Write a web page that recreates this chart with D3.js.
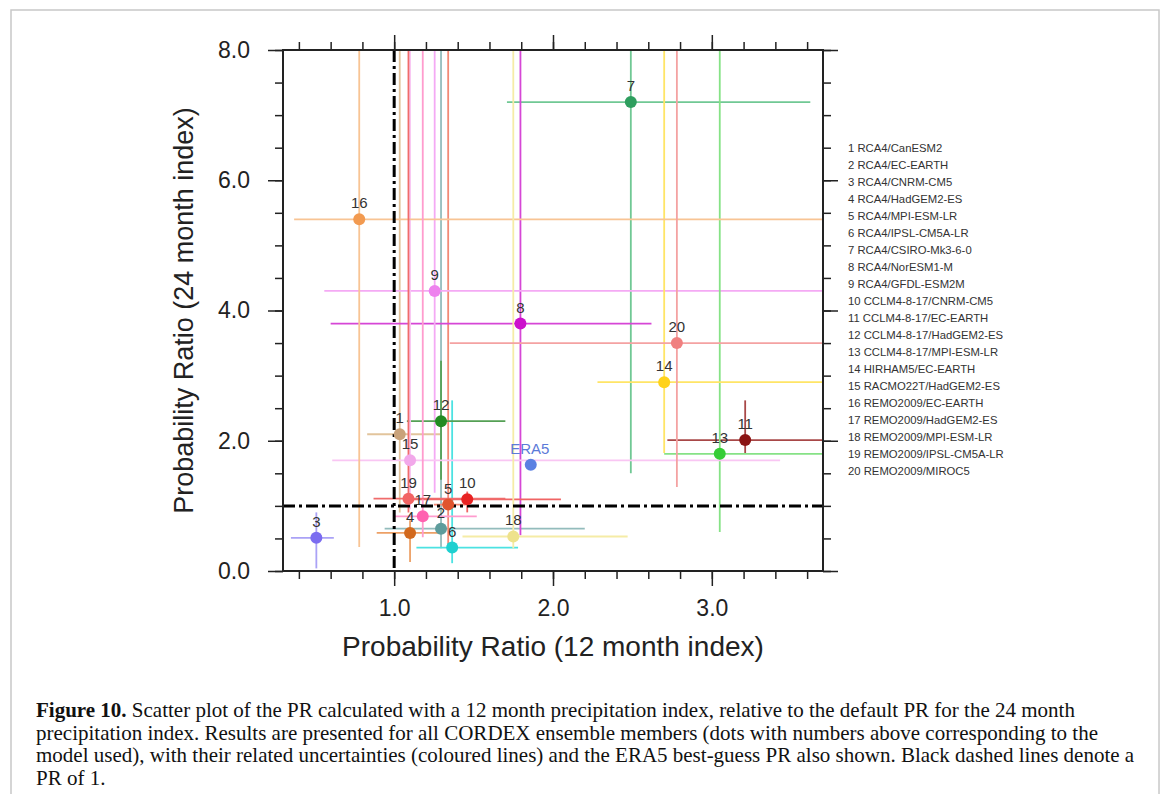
<!DOCTYPE html>
<html><head><meta charset="utf-8">
<script src="https://cdn.jsdelivr.net/npm/d3@7"></script>
<style>body{margin:0;background:#fff}svg{display:block}</style>
</head><body>
<svg id="chart" width="1170" height="794"></svg>
<script>
const ids      = ["1","2","3","4","5","6","7","8","9","10","11","12","13","14","15","16","17","18","19","20"];
const models   = ["RCA4/CanESM2","RCA4/EC-EARTH","RCA4/CNRM-CM5","RCA4/HadGEM2-ES","RCA4/MPI-ESM-LR","RCA4/IPSL-CM5A-LR","RCA4/CSIRO-Mk3-6-0","RCA4/NorESM1-M","RCA4/GFDL-ESM2M","CCLM4-8-17/CNRM-CM5","CCLM4-8-17/EC-EARTH","CCLM4-8-17/HadGEM2-ES","CCLM4-8-17/MPI-ESM-LR","HIRHAM5/EC-EARTH","RACMO22T/HadGEM2-ES","REMO2009/EC-EARTH","REMO2009/HadGEM2-ES","REMO2009/MPI-ESM-LR","REMO2009/IPSL-CM5A-LR","REMO2009/MIROC5"];
const pr12     = [1.035,1.295,0.51,1.10,1.34,1.365,2.49,1.795,1.255,1.46,3.21,1.295,3.05,2.70,1.10,0.78,1.18,1.75,1.09,2.78];
const pr24     = [2.10,0.65,0.51,0.585,1.02,0.36,7.20,3.80,4.30,1.10,2.01,2.30,1.80,2.90,1.70,5.40,0.84,0.53,1.11,3.50];
const pr12Low  = [0.83,0.94,0.35,0.89,1.25,1.14,1.71,0.60,0.56,1.10,2.72,1.08,2.70,2.28,0.61,0.37,1.00,1.43,0.87,1.35];
const pr12High = [1.29,2.20,0.62,1.30,1.45,1.78,3.62,2.62,4.00,2.05,4.00,1.70,4.00,4.00,3.43,4.00,1.52,2.47,1.70,4.00];
const pr24Low  = [0.90,0.35,0.04,0.14,0.37,0.12,1.50,0.55,1.20,0.90,1.81,1.40,0.60,1.81,0.95,0.37,0.52,0.35,0.90,1.29];
const pr24High = [9,9,0.90,0.78,9,2.62,9,9,9,1.22,2.62,3.23,9,9,9,9,9,9,9,9];
const dotColors  = ["#c9a27a","#5e9c9c","#7b6cf0","#d2691e","#e0552e","#1fd0d0","#2e9e5e","#cc10cc","#ee82ee","#e82222","#8b1414","#228b22","#36cd36","#ffd21a","#f2a8ea","#f29a50","#ff62b0","#eee28c","#f26464","#f08080"];
const lineColors = ["#e2c49c","#93bcbc","#aaa2f6","#eda066","#f28a76","#4ce2e2","#70c894","#d646d6","#f4aaf4","#f06464","#a84848","#55a055","#86e286","#ffe566","#f9c6f3","#f8c494","#ff9cce","#f5eca6","#f06c6c","#f4a2a2"];
const era5 = {x: 1.86, y: 1.63, label: "ERA5"};
const xTicks = [1.0, 2.0, 3.0];
const yTicks = [0.0, 2.0, 4.0, 6.0, 8.0];
const xTitle = "Probability Ratio (12 month index)";
const yTitle = "Probability Ratio (24 month index)";
const captionBold = "Figure 10.";
const captionLines = [
  " Scatter plot of the PR calculated with a 12 month precipitation index, relative to the default PR for the 24 month",
  "precipitation index. Results are presented for all CORDEX ensemble members (dots with numbers above corresponding to the",
  "model used), with their related uncertainties (coloured lines) and the ERA5 best-guess PR also shown. Black dashed lines denote a",
  "PR of 1."
];

const svg = d3.select("#chart");
const L = 283, R = 823, T = 50, B = 571;
const x = d3.scaleLinear().domain([0.3, 3.7]).range([L, R]);
const y = d3.scaleLinear().domain([0, 8]).range([B, T]);
const font = "'Liberation Sans', Arial, Helvetica, sans-serif";

// outer border
svg.append("rect").attr("x", 11).attr("y", 10).attr("width", 1148).attr("height", 800)
  .attr("fill", "none").attr("stroke", "#c8c8c8").attr("stroke-width", 1.5);

svg.append("defs").append("clipPath").attr("id", "clip")
  .append("rect").attr("x", L).attr("y", T).attr("width", R - L).attr("height", B - T);

const data = ids.map((id, i) => ({id, i, x: pr12[i], y: pr24[i], xl: pr12Low[i], xh: pr12High[i], yl: pr24Low[i], yh: pr24High[i]}));

const g = svg.append("g").attr("clip-path", "url(#clip)");
// error bars
data.forEach(d => {
  g.append("line").attr("x1", x(d.xl)).attr("x2", x(d.xh)).attr("y1", y(d.y)).attr("y2", y(d.y))
    .attr("stroke", lineColors[d.i]).attr("stroke-width", 1.8);
  g.append("line").attr("x1", x(d.x)).attr("x2", x(d.x)).attr("y1", y(d.yl)).attr("y2", y(d.yh))
    .attr("stroke", lineColors[d.i]).attr("stroke-width", 1.8);
});
// reference PR=1 lines
g.append("line").attr("x1", x(1)).attr("x2", x(1)).attr("y1", T).attr("y2", B)
  .attr("stroke", "#000").attr("stroke-width", 3).attr("stroke-dasharray", "12,4,3,4");
g.append("line").attr("x1", L).attr("x2", R).attr("y1", y(1)).attr("y2", y(1))
  .attr("stroke", "#000").attr("stroke-width", 3).attr("stroke-dasharray", "12,4,3,4");
// points
g.selectAll("circle.pt").data(data).join("circle").attr("class", "pt")
  .attr("cx", d => x(d.x)).attr("cy", d => y(d.y)).attr("r", 6).attr("fill", d => dotColors[d.i]);
g.append("circle").attr("cx", x(era5.x)).attr("cy", y(era5.y)).attr("r", 6).attr("fill", "#5b80e2");
// labels
svg.selectAll("text.lab").data(data).join("text").attr("class", "lab")
  .attr("x", d => x(d.x)).attr("y", d => y(d.y) - 11).attr("text-anchor", "middle")
  .attr("font-family", font).attr("font-size", 15).attr("fill", "#333").text(d => d.id);
svg.append("text").attr("x", x(era5.x) - 1).attr("y", y(era5.y) - 11).attr("text-anchor", "middle")
  .attr("font-family", font).attr("font-size", 15).attr("fill", "#5b7ad8").text(era5.label);

// axes
function styleAxis(sel) {
  sel.select(".domain").remove();
  sel.selectAll(".tick line").attr("stroke", "#222").attr("stroke-width", 1.5);
  sel.selectAll("text").attr("font-family", font).attr("font-size", 23).attr("fill", "#222");
}
const xMinor = d3.range(0.4, 3.7, 0.2).map(v => +v.toFixed(1));
const yMinor = d3.range(0, 8.01, 0.5);
const fmt = d3.format(".1f");
// bottom
svg.append("g").attr("transform", `translate(0,${B})`)
  .call(d3.axisBottom(x).tickValues(xMinor).tickSize(8).tickFormat("")).call(styleAxis);
svg.append("g").attr("transform", `translate(0,${B})`)
  .call(d3.axisBottom(x).tickValues(xTicks).tickSize(15).tickPadding(14).tickFormat(fmt)).call(styleAxis);
// top
svg.append("g").attr("transform", `translate(0,${T})`)
  .call(d3.axisTop(x).tickValues(xMinor).tickSize(8).tickFormat("")).call(styleAxis);
svg.append("g").attr("transform", `translate(0,${T})`)
  .call(d3.axisTop(x).tickValues(xTicks).tickSize(15).tickFormat("")).call(styleAxis);
// left
svg.append("g").attr("transform", `translate(${L},0)`)
  .call(d3.axisLeft(y).tickValues(yMinor).tickSize(8).tickFormat("")).call(styleAxis);
svg.append("g").attr("transform", `translate(${L},0)`)
  .call(d3.axisLeft(y).tickValues(yTicks).tickSize(15).tickPadding(18).tickFormat(fmt)).call(styleAxis);
// right
svg.append("g").attr("transform", `translate(${R},0)`)
  .call(d3.axisRight(y).tickValues(yMinor).tickSize(8).tickFormat("")).call(styleAxis);
svg.append("g").attr("transform", `translate(${R},0)`)
  .call(d3.axisRight(y).tickValues(yTicks).tickSize(15).tickFormat("")).call(styleAxis);

svg.append("rect").attr("x", L).attr("y", T).attr("width", R - L).attr("height", B - T)
  .attr("fill", "none").attr("stroke", "#222").attr("stroke-width", 2);

// titles
svg.append("text").attr("x", (L + R) / 2).attr("y", 656).attr("text-anchor", "middle")
  .attr("font-family", font).attr("font-size", 28).attr("fill", "#222").text(xTitle);
svg.append("text").attr("transform", `translate(193,${(T + B) / 2}) rotate(-90)`).attr("text-anchor", "middle")
  .attr("font-family", font).attr("font-size", 27).attr("fill", "#222").text(yTitle);

// legend
svg.selectAll("text.leg").data(data).join("text").attr("class", "leg")
  .attr("x", 848).attr("y", d => 152 + d.i * 17)
  .attr("font-family", font).attr("font-size", 11.3).attr("fill", "#333")
  .text(d => d.id + " " + models[d.i]);

// caption
const cap = svg.append("g").attr("font-family", "'Liberation Serif', 'Times New Roman', serif")
  .attr("font-size", 21).attr("fill", "#111");
captionLines.forEach((line, i) => {
  const t = cap.append("text").attr("x", 36).attr("y", 717 + i * 22.5);
  if (i === 0) t.append("tspan").attr("font-weight", "bold").text(captionBold);
  t.append("tspan").text(line);
});
</script>
</body></html>
